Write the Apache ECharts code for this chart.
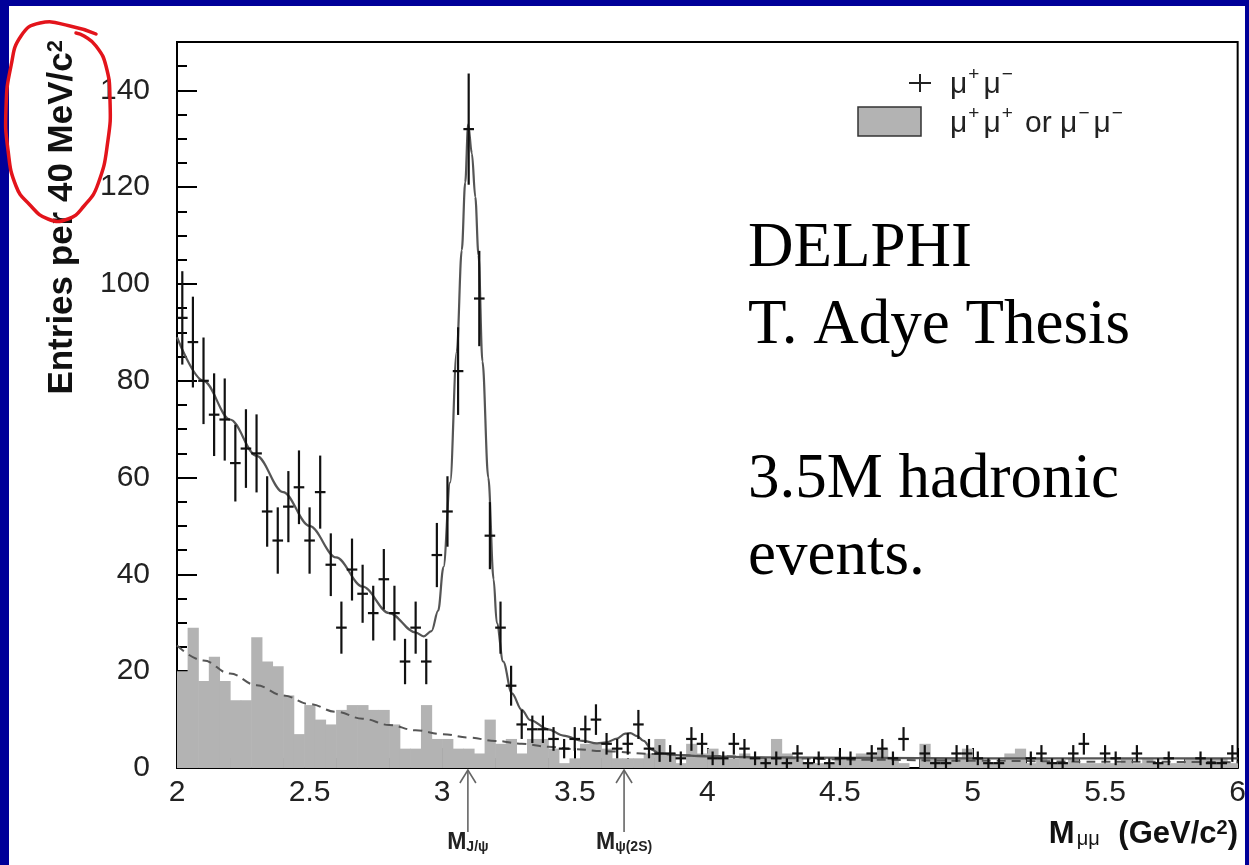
<!DOCTYPE html>
<html><head><meta charset="utf-8">
<script src="https://cdn.jsdelivr.net/npm/echarts@6/dist/echarts.min.js"></script>
<style>
html,body{margin:0;padding:0;background:#000099;overflow:hidden;}
#bg{position:absolute;left:9px;top:6px;width:1236px;height:859px;background:#ffffff;}
#c{position:absolute;left:0;top:0;width:1249px;height:865px;}
</style>
</head><body><div id="bg"></div><div id="c"></div>
<script>
// ---- data ----
const binStart = 2.0;
const binWidth = 0.04;
// opposite-sign mu+mu- entries per 40 MeV bin (2.00 .. 6.00)
const oppositeSign = [
  93, 88, 80, 73, 72, 63, 66, 65, 53, 47,
  54, 58, 47, 57, 42, 29, 41, 36, 32, 39,
  32, 22, 29, 22, 44, 53, 82, 132, 97, 48,
  29, 17, 9, 8, 8, 6, 4, 6, 8, 10,
  5, 4, 5, 9, 4, 3, 3, 2, 6, 5,
  2, 2, 5, 4, 2, 1, 2, 1, 3, 1,
  2, 1, 2, 2, 0, 3, 4, 2, 6, 0,
  3, 1, 1, 3, 3, 2, 1, 1, 0, 0,
  2, 3, 1, 1, 3, 5, 0, 3, 2, 0,
  3, 0, 1, 2, 0, 0, 2, 1, 1, 3
];
// like-sign mu+mu+ or mu-mu- entries per bin
const likeSign = [
  20, 29, 18, 23, 18, 14, 14, 27, 22, 21,
  15, 7, 13, 10, 9, 12, 13, 13, 12, 12,
  9, 4, 4, 13, 6, 6, 4, 4, 3, 10,
  5, 6, 3, 6, 6, 4, 1, 2, 5, 5,
  4, 2, 2, 2, 3, 6, 3, 1, 5, 3,
  4, 2, 2, 3, 2, 2, 6, 3, 2, 1,
  1, 1, 2, 2, 3, 3, 4, 2, 1, 0,
  5, 2, 2, 2, 4, 2, 1, 1, 3, 4,
  1, 2, 1, 1, 2, 1, 1, 1, 1, 2,
  1, 2, 1, 1, 1, 2, 2, 2, 2, 1
];
// full fit curve
const fitX = [2.00, 2.10, 2.20, 2.30, 2.40, 2.50, 2.60, 2.70, 2.80, 2.90, 2.93, 2.96, 2.985, 3.005, 3.03, 3.055, 3.074, 3.087, 3.098, 3.112, 3.125, 3.137, 3.152, 3.174, 3.194, 3.206, 3.23, 3.263, 3.30, 3.332, 3.40, 3.457, 3.53, 3.584, 3.62, 3.66, 3.69, 3.71, 3.735, 3.76, 3.79, 3.82, 3.90, 4.00, 4.20, 4.60, 5.00, 5.50, 6.00];
const fitY = [89, 80, 72, 64.5, 57, 50, 43.5, 37.5, 32, 28, 27.2, 28.3, 32.5, 41.5, 59, 86, 107, 121, 133, 127, 118, 106, 84, 60, 39, 30, 22, 15.4, 12, 9.9, 8, 6.7, 5.6, 5.1, 5.3, 6.1, 7.1, 7.2, 6.6, 5.6, 3.8, 3.0, 2.6, 2.4, 2.2, 2.1, 2.0, 2.0, 2.0];
// background (like-sign) fit, dashed
const bgFitX = [2.0, 2.1, 2.2, 2.3, 2.4, 2.5, 2.6, 2.7, 2.8, 2.9, 3.0, 3.1, 3.2, 3.3, 3.4, 3.5, 3.6, 3.8, 4.0, 4.3, 4.6, 5.0, 5.5, 6.0];
const bgFitY = [25.3, 22.2, 19.5, 17.1, 15.0, 13.2, 11.6, 10.2, 8.9, 7.8, 7.0, 6.3, 5.6, 5.0, 4.4, 3.9, 3.5, 2.9, 2.5, 2.0, 1.7, 1.5, 1.3, 1.2];
// mass markers
const markerMasses = [3.097, 3.686];
const markerSubs = ['J/ψ', 'ψ(2S)'];
// legend / annotation texts
const legendTexts = ['{m|μ}{s|+}{m|μ}{s|−}', '{m|μ}{s|+}{m|μ}{s|+}{m| or μ}{s|−}{m|μ}{s|−}'];
const noteLines = ['DELPHI', 'T. Adye Thesis', '3.5M hadronic', 'events.'];

// ---- chart ----
const F = "'Liberation Sans', Arial, Helvetica, sans-serif";
const chart = echarts.init(document.getElementById('c'));

const likeData = likeSign.map((v, i) => [binStart + i * binWidth, binStart + (i + 1) * binWidth, v]);
const oppData = oppositeSign.map((v, i) => [binStart + (i + 0.5) * binWidth, v, binStart + i * binWidth, binStart + (i + 1) * binWidth]);
const fitData = fitX.map((x, i) => [x, fitY[i]]);
const bgData = bgFitX.map((x, i) => [x, bgFitY[i]]);

const tickStyle = { color: '#000', width: 2 };

chart.setOption({
  animation: false,
  grid: { left: 177, right: 9, top: 42, bottom: 97, show: true, borderColor: '#000', borderWidth: 2, backgroundColor: 'transparent' },
  xAxis: {
    type: 'value', min: 2, max: 6, interval: 0.5,
    axisLine: { show: true, onZero: false, lineStyle: { color: '#000', width: 2 } },
    axisTick: { show: true, inside: true, length: 20, lineStyle: tickStyle },
    minorTick: { show: true, splitNumber: 5, length: 10, lineStyle: tickStyle },
    axisLabel: { fontSize: 30, color: '#222', fontFamily: F, margin: 10 },
    splitLine: { show: false }, minorSplitLine: { show: false }
  },
  yAxis: [
    {
      type: 'value', min: 0, max: 150, interval: 20,
      axisLine: { show: true, lineStyle: { color: '#000', width: 2 } },
      axisTick: { show: true, inside: true, length: 20, lineStyle: tickStyle },
      axisLabel: { fontSize: 30, color: '#222', fontFamily: F, margin: 27, showMaxLabel: false },
      splitLine: { show: false }
    },
    {
      type: 'value', min: 0, max: 150, interval: 5, position: 'left',
      axisLine: { show: false },
      axisTick: { show: true, inside: true, length: 10, lineStyle: tickStyle },
      axisLabel: { show: false },
      splitLine: { show: false }
    }
  ],
  series: [
    {
      type: 'custom', z: 1, clip: true,
      encode: { x: [0, 1], y: 2 },
      data: likeData,
      renderItem: function (params, api) {
        const p0 = api.coord([api.value(0), 0]);
        const p1 = api.coord([api.value(1), api.value(2)]);
        return { type: 'rect', shape: { x: p0[0], y: p1[1], width: p1[0] - p0[0] + 0.6, height: p0[1] - p1[1] }, style: { fill: '#b3b3b3' } };
      }
    },
    {
      type: 'line', z: 2, data: bgData, showSymbol: false, smooth: 0.4, smoothMonotone: 'x',
      lineStyle: { color: '#555', width: 2, type: [9, 6] }
    },
    {
      type: 'line', z: 3, data: fitData, showSymbol: false, smooth: 0.35, smoothMonotone: 'x',
      lineStyle: { color: '#555', width: 2.2 }
    },
    {
      type: 'custom', z: 4, clip: true,
      encode: { x: 0, y: 1 },
      data: oppData,
      renderItem: function (params, api) {
        const c = api.value(0), v = api.value(1), lo = api.value(2), hi = api.value(3);
        if (v <= 0) return { type: 'group', children: [] };
        const e = Math.sqrt(v);
        const a = api.coord([lo, v]), b = api.coord([hi, v]);
        const t = api.coord([c, v + e]), d = api.coord([c, v - e]);
        const st = { stroke: '#111', lineWidth: 2.2 };
        return {
          type: 'group', children: [
            { type: 'line', shape: { x1: a[0], y1: a[1], x2: b[0], y2: b[1] }, style: st },
            { type: 'line', shape: { x1: t[0], y1: t[1], x2: d[0], y2: d[1] }, style: st }
          ]
        };
      }
    }
  ]
});

// ---- graphic annotations ----
const g = [];
// y-axis title
g.push({
  type: 'text', x: 62, y: 40, rotation: Math.PI / 2, z: 10,
  style: {
    text: '{b|Entries per 40 MeV/c}{s|2}', align: 'right', verticalAlign: 'middle', textAlign: 'right', textVerticalAlign: 'middle',
    rich: {
      b: { fontSize: 35, fontWeight: 'bold', fontFamily: F, fill: '#111' },
      s: { fontSize: 22, fontWeight: 'bold', fontFamily: F, fill: '#111', verticalAlign: 'top' }
    }
  }
});
// x-axis title
g.push({
  type: 'text', x: 1238, y: 834, z: 10,
  style: {
    text: '{b|M}{u|μμ}{b| (GeV/c}{s|2}{b|)}', align: 'right', verticalAlign: 'middle', textAlign: 'right', textVerticalAlign: 'middle',
    rich: {
      b: { fontSize: 31, fontWeight: 'bold', fontFamily: F, fill: '#111' },
      u: { fontSize: 20, fontFamily: F, fill: '#111', verticalAlign: 'bottom', padding: [0, 10, 0, 2] },
      s: { fontSize: 20, fontWeight: 'bold', fontFamily: F, fill: '#111', verticalAlign: 'top' }
    }
  }
});
// legend
g.push({ type: 'line', z: 10, shape: { x1: 909, y1: 83, x2: 931, y2: 83 }, style: { stroke: '#222', lineWidth: 2 } });
g.push({ type: 'line', z: 10, shape: { x1: 920, y1: 74, x2: 920, y2: 92 }, style: { stroke: '#222', lineWidth: 2 } });
g.push({ type: 'rect', z: 10, shape: { x: 858, y: 107, width: 63, height: 29 }, style: { fill: '#b3b3b3', stroke: '#333', lineWidth: 1.5 } });
const legRich = {
  m: { fontSize: 30, lineHeight: 40, fontFamily: F, fill: '#222' },
  s: { fontSize: 19, fontFamily: F, fill: '#222', verticalAlign: 'top', padding: [0, 4, 0, 1] }
};
g.push({ type: 'text', z: 10, x: 950, y: 85, style: { text: legendTexts[0], align: 'left', verticalAlign: 'middle', textVerticalAlign: 'middle', rich: legRich } });
g.push({ type: 'text', z: 10, x: 950, y: 124, style: { text: legendTexts[1], align: 'left', verticalAlign: 'middle', textVerticalAlign: 'middle', rich: legRich } });
// note text
const noteY = [249, 326, 480, 557];
noteLines.forEach((t, i) => {
  g.push({ type: 'text', z: 10, x: 748, y: noteY[i], style: { text: t, fontSize: 63, fontFamily: "'Liberation Serif', 'Times New Roman', serif", fill: '#000', align: 'left', verticalAlign: 'middle', textVerticalAlign: 'middle' } });
});
// mass markers
markerMasses.forEach((m, i) => {
  const px = chart.convertToPixel({ xAxisIndex: 0 }, m);
  const st = { stroke: '#666', lineWidth: 1.6 };
  g.push({ type: 'line', z: 10, shape: { x1: px, y1: 770, x2: px, y2: 832 }, style: st });
  g.push({ type: 'polyline', z: 10, shape: { points: [[px - 8, 783], [px, 770], [px + 8, 783]] }, style: { stroke: '#666', lineWidth: 1.6, fill: null } });
  g.push({
    type: 'text', z: 10, x: px, y: 843,
    style: {
      text: '{m|M}{s|' + markerSubs[i] + '}', align: 'center', verticalAlign: 'middle', textAlign: 'center', textVerticalAlign: 'middle',
      rich: {
        m: { fontSize: 23, fontWeight: 'bold', fontFamily: F, fill: '#222' },
        s: { fontSize: 14, fontWeight: 'bold', fontFamily: F, fill: '#222', verticalAlign: 'bottom' }
      }
    }
  });
});
// red hand-drawn loop
g.push({
  type: 'polyline', z: 20,
  shape: { smooth: 0.5, points: [[96, 34], [70, 26], [40, 23], [21, 36], [11, 66], [6, 108], [8, 150], [16, 186], [29, 204], [48, 219], [68, 219], [84, 206], [98, 184], [108, 140], [110, 100], [106, 66], [96, 46], [84, 36], [76, 33]] },
  style: { stroke: '#e3141b', lineWidth: 3.5, fill: null, lineCap: 'round', lineJoin: 'round' }
});
chart.setOption({ graphic: { elements: g } });
</script>
</body></html>
